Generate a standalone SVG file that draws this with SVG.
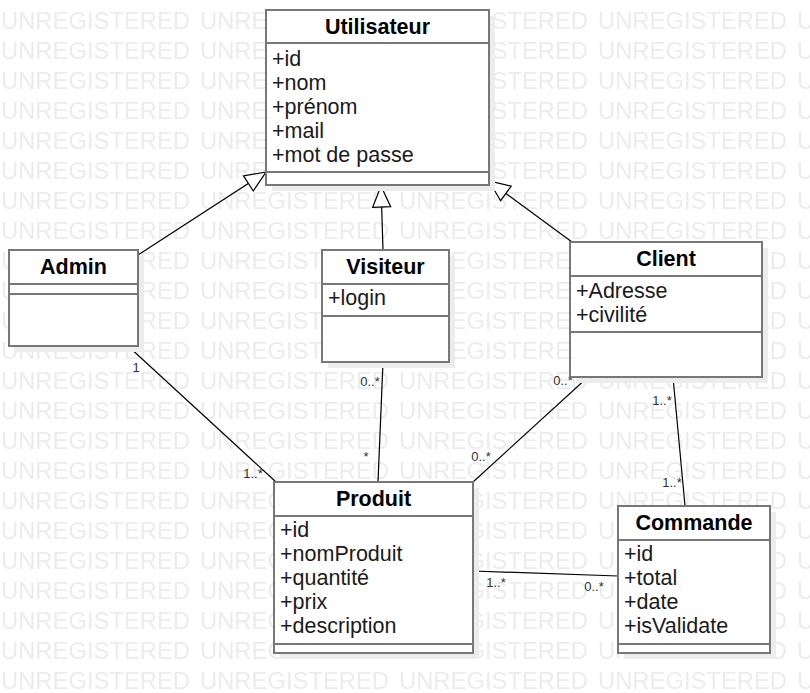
<svg xmlns="http://www.w3.org/2000/svg" width="810" height="693" viewBox="0 0 810 693">
<style>
.box{fill:#fff;stroke:#777;stroke-width:2}
.sh{fill:#ececec}
.dv{stroke:#777;stroke-width:2}
.t{font-family:"Liberation Sans",Arial,sans-serif;font-size:21.5px;font-weight:bold;fill:#000;text-anchor:middle}
.a{font-family:"Liberation Sans",Arial,sans-serif;font-size:21.5px;fill:#1a1a1a}
.m{font-family:"Liberation Sans",Arial,sans-serif;font-size:13px;fill:#333;text-anchor:middle}
.ln{stroke:#000;stroke-width:1.2;fill:none}
.wm{font-family:"Liberation Sans",Arial,sans-serif;font-size:23px;fill:#ececec}
</style>
<defs>
<pattern id="wmp" patternUnits="userSpaceOnUse" x="0" y="-1" width="199" height="30"><text class="wm" x="1" y="30" textLength="189" lengthAdjust="spacingAndGlyphs">UNREGISTERED</text></pattern>
<marker id="gen" markerUnits="userSpaceOnUse" orient="auto" overflow="visible" refX="0" refY="0" markerWidth="22" markerHeight="20"><path d="M0,0 L-21,-9 L-21,9 Z" fill="#fff" stroke="#000" stroke-width="1.2"/></marker>
</defs>
<rect width="810" height="693" fill="#fff"/>
<rect width="810" height="693" fill="url(#wmp)"/>

<g id="connectors">
<line class="ln" x1="138" y1="255" x2="266" y2="172" marker-end="url(#gen)"/>
<line class="ln" x1="383" y1="250" x2="381" y2="186" marker-end="url(#gen)"/>
<line class="ln" x1="572" y1="242" x2="489" y2="181" marker-end="url(#gen)"/>
<line class="ln" x1="128" y1="346" x2="276" y2="482"/>
<line class="ln" x1="383" y1="362" x2="378" y2="482"/>
<line class="ln" x1="588" y1="377" x2="473" y2="482"/>
<line class="ln" x1="673" y1="377" x2="685" y2="506"/>
<line class="ln" x1="473" y1="571" x2="618" y2="576"/>
<text class="m" x="136" y="372">1</text>
<text class="m" x="253" y="478">1..*</text>
<text class="m" x="370" y="386">0..*</text>
<text class="m" x="366" y="461">*</text>
<text class="m" x="563" y="385">0..*</text>
<text class="m" x="481" y="461">0..*</text>
<text class="m" x="662" y="405">1..*</text>
<text class="m" x="672" y="487">1..*</text>
<text class="m" x="496" y="587">1..*</text>
<text class="m" x="594" y="591">0..*</text>
</g>

<g id="utilisateur">
<rect class="sh" x="272" y="16" width="223" height="175"/>
<rect class="box" x="266" y="10" width="223" height="175"/>
<line class="dv" x1="266" y1="43" x2="489" y2="43"/>
<line class="dv" x1="266" y1="172" x2="489" y2="172"/>
<text class="t" x="377.5" y="34">Utilisateur</text>
<text class="a" x="272" y="66">+id</text>
<text class="a" x="272" y="90">+nom</text>
<text class="a" x="272" y="114">+prénom</text>
<text class="a" x="272" y="138">+mail</text>
<text class="a" x="272" y="162">+mot de passe</text>
</g>

<g id="admin">
<rect class="sh" x="15" y="256" width="129" height="96"/>
<rect class="box" x="9" y="250" width="129" height="96"/>
<line class="dv" x1="9" y1="284" x2="138" y2="284"/>
<line class="dv" x1="9" y1="294" x2="138" y2="294"/>
<text class="t" x="73.5" y="274">Admin</text>
</g>

<g id="visiteur">
<rect class="sh" x="328" y="256" width="127" height="112"/>
<rect class="box" x="322" y="250" width="127" height="112"/>
<line class="dv" x1="322" y1="284" x2="449" y2="284"/>
<line class="dv" x1="322" y1="316" x2="449" y2="316"/>
<text class="t" x="385.5" y="274">Visiteur</text>
<text class="a" x="328" y="305">+login</text>
</g>

<g id="client">
<rect class="sh" x="576" y="248" width="192" height="135"/>
<rect class="box" x="570" y="242" width="192" height="135"/>
<line class="dv" x1="570" y1="276" x2="762" y2="276"/>
<line class="dv" x1="570" y1="332" x2="762" y2="332"/>
<text class="t" x="666" y="266">Client</text>
<text class="a" x="576" y="298">+Adresse</text>
<text class="a" x="576" y="322">+civilité</text>
</g>

<g id="produit">
<rect class="sh" x="280" y="488" width="199" height="171"/>
<rect class="box" x="274" y="482" width="199" height="171"/>
<line class="dv" x1="274" y1="516" x2="473" y2="516"/>
<line class="dv" x1="274" y1="644" x2="473" y2="644"/>
<text class="t" x="373.5" y="506">Produit</text>
<text class="a" x="280" y="537">+id</text>
<text class="a" x="280" y="561">+nomProduit</text>
<text class="a" x="280" y="585">+quantité</text>
<text class="a" x="280" y="609">+prix</text>
<text class="a" x="280" y="633">+description</text>
</g>

<g id="commande">
<rect class="sh" x="624" y="512" width="152" height="147"/>
<rect class="box" x="618" y="506" width="152" height="147"/>
<line class="dv" x1="618" y1="540" x2="770" y2="540"/>
<line class="dv" x1="618" y1="644" x2="770" y2="644"/>
<text class="t" x="694" y="530">Commande</text>
<text class="a" x="624" y="561">+id</text>
<text class="a" x="624" y="585">+total</text>
<text class="a" x="624" y="609">+date</text>
<text class="a" x="624" y="633">+isValidate</text>
</g>
</svg>
